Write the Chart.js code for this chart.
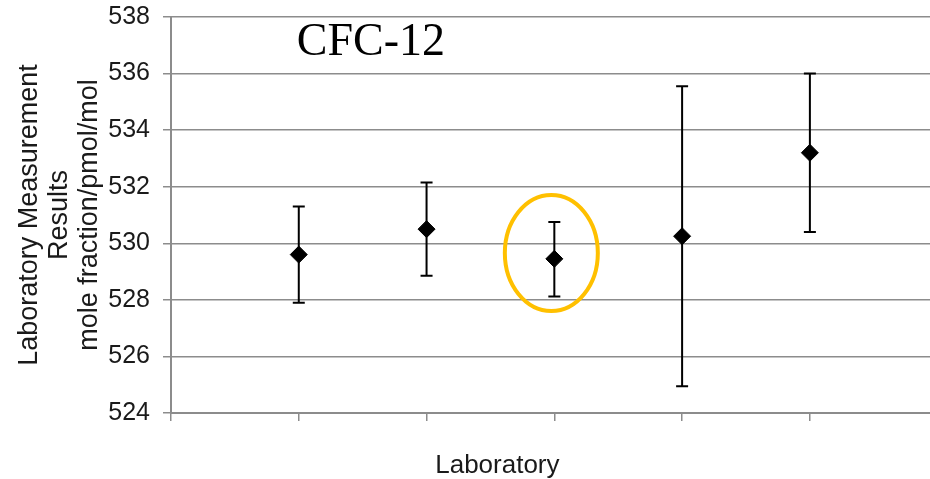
<!DOCTYPE html>
<html>
<head>
<meta charset="utf-8">
<script src="https://cdn.jsdelivr.net/npm/chart.js@4"></script>
<style>
  body { margin: 0; background: #fff; }
</style>
</head>
<body>
<canvas id="myChart" width="930" height="479"></canvas>
<script>
const labs = [1, 2, 3, 4, 5];
const results = [529.6, 530.5, 529.45, 530.25, 533.2];
const upperErr = [531.3, 532.15, 530.75, 535.55, 536.0];
const lowerErr = [527.9, 528.85, 528.12, 524.95, 530.4];
const highlightLab = 3;
const highlightCenter = 529.66;

const gridColor = "#8c8c8c";

// error bars drawn under the diamonds
const errorBars = {
  id: "errorBars",
  beforeDatasetsDraw(chart) {
    const ctx = chart.ctx;
    const x = chart.scales.x, y = chart.scales.y;
    ctx.save();
    ctx.strokeStyle = "#000";
    ctx.lineWidth = 2;
    labs.forEach((lab, i) => {
      const px = x.getPixelForValue(lab);
      const top = y.getPixelForValue(upperErr[i]);
      const bot = y.getPixelForValue(lowerErr[i]);
      ctx.beginPath();
      ctx.moveTo(px, top); ctx.lineTo(px, bot);
      ctx.moveTo(px - 6, top); ctx.lineTo(px + 6, top);
      ctx.moveTo(px - 6, bot); ctx.lineTo(px + 6, bot);
      ctx.stroke();
    });
    ctx.restore();
  },
};

// title text, x-axis title and the highlight ring
const extras = {
  id: "extras",
  afterDraw(chart) {
    const ctx = chart.ctx;
    const x = chart.scales.x, y = chart.scales.y;
    const area = chart.chartArea;
    ctx.save();
    ctx.fillStyle = "#000";
    ctx.font = "46px 'Liberation Serif'";
    ctx.textBaseline = "alphabetic";
    ctx.textAlign = "left";
    ctx.fillText("CFC-12", x.getPixelForValue(1) - 2, y.getPixelForValue(536.64));

    ctx.fillStyle = "#1a1a1a";
    ctx.font = "26px 'Liberation Sans'";
    ctx.textAlign = "center";
    ctx.fillText("Laboratory", area.left + (area.right - area.left) * 0.43, 473);

    ctx.strokeStyle = "#ffc000";
    ctx.lineWidth = 4;
    ctx.beginPath();
    ctx.ellipse(x.getPixelForValue(highlightLab) - 3, y.getPixelForValue(highlightCenter), 46.5, 58, 0, 0, Math.PI * 2);
    ctx.stroke();
    ctx.restore();
  },
};

new Chart("myChart", {
  type: "scatter",
  data: {
    datasets: [
      {
        data: labs.map((lab, i) => ({ x: lab, y: results[i] })),
        backgroundColor: "#000",
        borderColor: "#000",
        pointStyle: "rectRot",
        pointRadius: 8.5,
        pointHoverRadius: 8.5,
      },
    ],
  },
  options: {
    responsive: false,
    animation: false,
    layout: { autoPadding: false, padding: { top: 17, right: 0, bottom: 0, left: 0 } },
    plugins: {
      legend: { display: false },
      tooltip: { enabled: false },
    },
    scales: {
      x: {
        type: "linear",
        min: 0,
        max: 5.94,
        afterFit: (s) => {
          s.height = 66;
          s.paddingLeft = 0;
          s.paddingRight = 0;
        },
        ticks: { stepSize: 1, includeBounds: false, callback: () => "" },
        grid: { drawOnChartArea: false, color: gridColor, tickLength: 8, lineWidth: 1.5 },
        border: { color: gridColor, width: 2 },
      },
      y: {
        min: 524,
        max: 538,
        afterFit: (s) => {
          s.width = 171;
          s.paddingTop = 0;
          s.paddingBottom = 0;
        },
        ticks: {
          stepSize: 2,
          padding: 13,
          color: "#1a1a1a",
          font: { family: "'Liberation Sans'", size: 25 },
        },
        grid: { color: gridColor, tickLength: 8, lineWidth: 1.5 },
        border: { color: gridColor, width: 2 },
        title: {
          display: true,
          text: ["Laboratory Measurement", "Results", "mole fraction/pmol/mol"],
          color: "#1a1a1a",
          font: { family: "'Liberation Sans'", size: 27, lineHeight: "30px" },
          padding: { top: 15, bottom: 0 },
        },
      },
    },
  },
  plugins: [errorBars, extras],
});
</script>
</body>
</html>
